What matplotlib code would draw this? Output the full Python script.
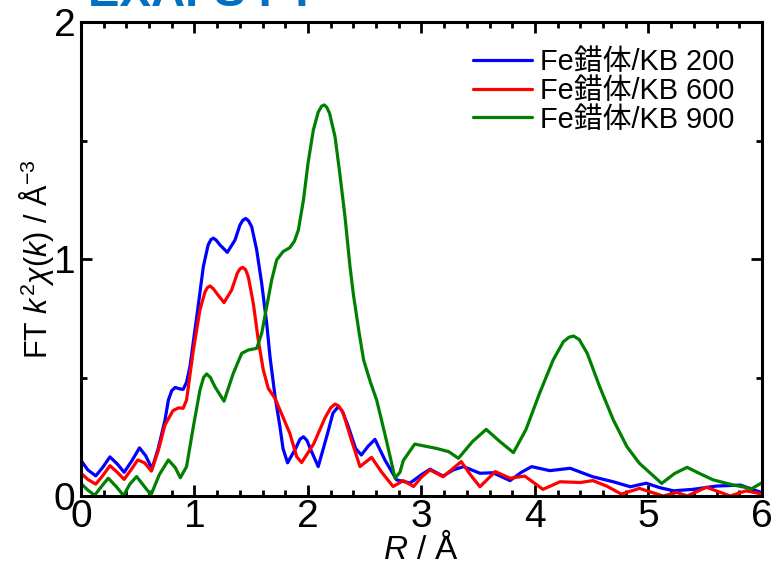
import matplotlib
matplotlib.use("Agg")
import matplotlib.pyplot as plt
from matplotlib.ticker import MultipleLocator

# ---- data ----
r_blue = [0.00, 0.06, 0.13, 0.19, 0.255, 0.32, 0.38, 0.45, 0.515, 0.57, 0.625, 0.68, 0.74, 0.77, 0.80, 0.83, 0.87, 0.90,
          0.93, 0.96, 1.02, 1.078, 1.12, 1.145, 1.166, 1.19, 1.225, 1.289, 1.357, 1.40, 1.425, 1.45, 1.475, 1.504, 1.548, 1.592, 1.636,
          1.665, 1.71, 1.753, 1.78, 1.82, 1.89, 1.93, 1.96, 1.99, 2.02, 2.09, 2.17, 2.22, 2.267, 2.30, 2.35, 2.42, 2.47, 2.53,
          2.59, 2.68, 2.78, 2.90, 3.00, 3.075, 3.19, 3.28, 3.37, 3.515, 3.63, 3.78, 3.88, 3.97, 4.13,
          4.31, 4.51, 4.69, 4.84, 4.98, 5.10, 5.22, 5.39, 5.60, 5.81, 6.00]
v_blue = [0.150, 0.110, 0.085, 0.120, 0.165, 0.135, 0.100, 0.150, 0.203, 0.170, 0.115, 0.200, 0.320, 0.405, 0.445, 0.458, 0.452, 0.450,
          0.480, 0.546, 0.757, 0.968, 1.059, 1.082, 1.088, 1.080, 1.059, 1.028, 1.080, 1.143, 1.163, 1.171, 1.162, 1.136, 1.038, 0.897, 0.729,
          0.588, 0.419, 0.292, 0.200, 0.140, 0.200, 0.240, 0.250, 0.235, 0.200, 0.124, 0.260, 0.350, 0.377, 0.360, 0.300, 0.200, 0.173, 0.210,
          0.239, 0.150, 0.068, 0.055, 0.090, 0.113, 0.084, 0.110, 0.124, 0.096, 0.098, 0.065, 0.100, 0.124, 0.107,
          0.117, 0.081, 0.060, 0.039, 0.054, 0.035, 0.022, 0.028, 0.042, 0.046, 0.014]

r_red = [0.00, 0.06, 0.13, 0.19, 0.255, 0.32, 0.38, 0.44, 0.50, 0.56, 0.62, 0.68, 0.74, 0.81, 0.86, 0.90, 0.93,
         0.99, 1.048, 1.093, 1.115, 1.137, 1.165, 1.196, 1.26, 1.327, 1.377, 1.40, 1.424, 1.45, 1.474, 1.518, 1.562, 1.606, 1.65,
         1.709, 1.753, 1.84, 1.90, 1.944, 2.05, 2.15, 2.20, 2.238, 2.27, 2.31, 2.38, 2.458, 2.56, 2.65, 2.75, 2.84,
         2.93, 3.00, 3.075, 3.19, 3.35, 3.43, 3.515, 3.65, 3.78, 3.91, 4.07, 4.22, 4.40, 4.51, 4.64,
         4.76, 4.92, 5.13, 5.25, 5.34, 5.51, 5.72, 5.86, 6.00]
v_red = [0.096, 0.070, 0.050, 0.085, 0.128, 0.100, 0.070, 0.110, 0.152, 0.140, 0.105, 0.190, 0.300, 0.360, 0.372, 0.370, 0.405,
         0.616, 0.785, 0.862, 0.880, 0.886, 0.875, 0.855, 0.816, 0.869, 0.940, 0.958, 0.965, 0.955, 0.925, 0.813, 0.658, 0.532, 0.454,
         0.412, 0.363, 0.264, 0.166, 0.141, 0.220, 0.330, 0.372, 0.388, 0.380, 0.350, 0.240, 0.124, 0.163, 0.100, 0.040, 0.065,
         0.040, 0.080, 0.110, 0.081, 0.145, 0.090, 0.039, 0.103, 0.075, 0.084, 0.028, 0.060, 0.057, 0.065, 0.040,
         0.008, 0.032, 0.000, 0.015, 0.000, 0.037, 0.000, 0.022, 0.008]

r_green = [0.00, 0.06, 0.12, 0.18, 0.24, 0.31, 0.375, 0.43, 0.49, 0.55, 0.617, 0.69, 0.77, 0.83, 0.875, 0.93,
           0.99, 1.048, 1.08, 1.107, 1.14, 1.18, 1.26, 1.342, 1.416, 1.474, 1.548, 1.592, 1.636, 1.68, 1.724, 1.78,
           1.84, 1.88, 1.915, 1.96, 2.00, 2.047, 2.09, 2.12, 2.144, 2.165, 2.19, 2.238, 2.28, 2.326, 2.37, 2.40, 2.45, 2.49, 2.55, 2.605,
           2.69, 2.767, 2.81, 2.84, 2.94, 3.13, 3.24, 3.325, 3.45, 3.57, 3.69, 3.81, 3.92, 4.04, 4.16,
           4.25, 4.30, 4.34, 4.39, 4.46, 4.57, 4.69, 4.81, 4.92, 5.116, 5.23, 5.34, 5.45, 5.57, 5.75, 5.91, 6.00]
v_green = [0.053, 0.025, 0.003, 0.040, 0.075, 0.040, 0.002, 0.050, 0.082, 0.045, 0.005, 0.090, 0.152, 0.120, 0.077, 0.124,
           0.293, 0.447, 0.500, 0.515, 0.500, 0.461, 0.400, 0.518, 0.602, 0.616, 0.623, 0.686, 0.799, 0.911, 0.996, 1.031,
           1.048, 1.075, 1.122, 1.249, 1.404, 1.544, 1.620, 1.645, 1.650, 1.640, 1.615, 1.516, 1.362, 1.178, 0.968, 0.850, 0.690, 0.574, 0.480, 0.405,
           0.236, 0.075, 0.100, 0.150, 0.219, 0.201, 0.187, 0.159, 0.230, 0.281, 0.230, 0.183, 0.280, 0.433, 0.574,
           0.651, 0.670, 0.675, 0.660, 0.602, 0.461, 0.321, 0.208, 0.138, 0.053, 0.095, 0.121, 0.095, 0.068, 0.046, 0.031, 0.056]

labels = ["Fe錯体/KB 200", "Fe錯体/KB 600", "Fe錯体/KB 900"]
title = "EXAFS FT"

# ---- styling ----
plt.rcParams['font.family'] = ['Liberation Sans', 'Noto Sans CJK JP', 'DejaVu Sans']
plt.rcParams['mathtext.fontset'] = 'custom'
plt.rcParams['mathtext.rm'] = 'Liberation Sans'
plt.rcParams['mathtext.it'] = 'Liberation Sans:italic'

fig = plt.figure(figsize=(7.73, 5.63), dpi=100)
ax = fig.add_axes([81/773, 1 - 496/563, (762 - 81)/773, (496 - 22)/563])

lw = 2.3
for r, v, c, lab in [(r_blue, v_blue, '#0000ff', labels[0]),
                     (r_red, v_red, '#ff0000', labels[1]),
                     (r_green, v_green, '#008000', labels[2])]:
    ax.plot(r, v, color=c, lw=lw, label=lab, solid_joinstyle='round', solid_capstyle='round')

ax.set_xlim(0, 6)
ax.set_ylim(0, 2)
ax.xaxis.set_major_locator(MultipleLocator(1))
ax.xaxis.set_minor_locator(MultipleLocator(0.2))
ax.yaxis.set_major_locator(MultipleLocator(1))
ax.yaxis.set_minor_locator(MultipleLocator(0.5))

for s in ax.spines.values():
    s.set_linewidth(2.2)
ax.tick_params(which='both', direction='in', top=True, right=True, width=2.0)
ax.tick_params(which='major', length=8, pad=2)
ax.tick_params(which='minor', length=4)

for lab in ax.get_xticklabels() + ax.get_yticklabels():
    lab.set_fontsize(28)
ax.tick_params(axis='y', pad=4)

ax.set_xlabel(r'$\mathit{R}$ / Å', fontsize=24, labelpad=-2)
ax.set_ylabel(r'FT $\mathit{k}^2\mathit{\chi}(\mathit{k})$ / Å$^{-3}$', fontsize=22, labelpad=-2)

leg = ax.legend(loc='upper right', bbox_to_anchor=(0.985, 0.982), frameon=False, fontsize=20.8,
                handlelength=2.05, handletextpad=0.28, labelspacing=0.03, borderaxespad=0.2)

fig.text(88/773, 1 - 6/563, title, color='#0070c0', fontsize=34, fontweight='bold',
         ha='left', va='baseline')

fig.savefig('out.png', dpi=100)
